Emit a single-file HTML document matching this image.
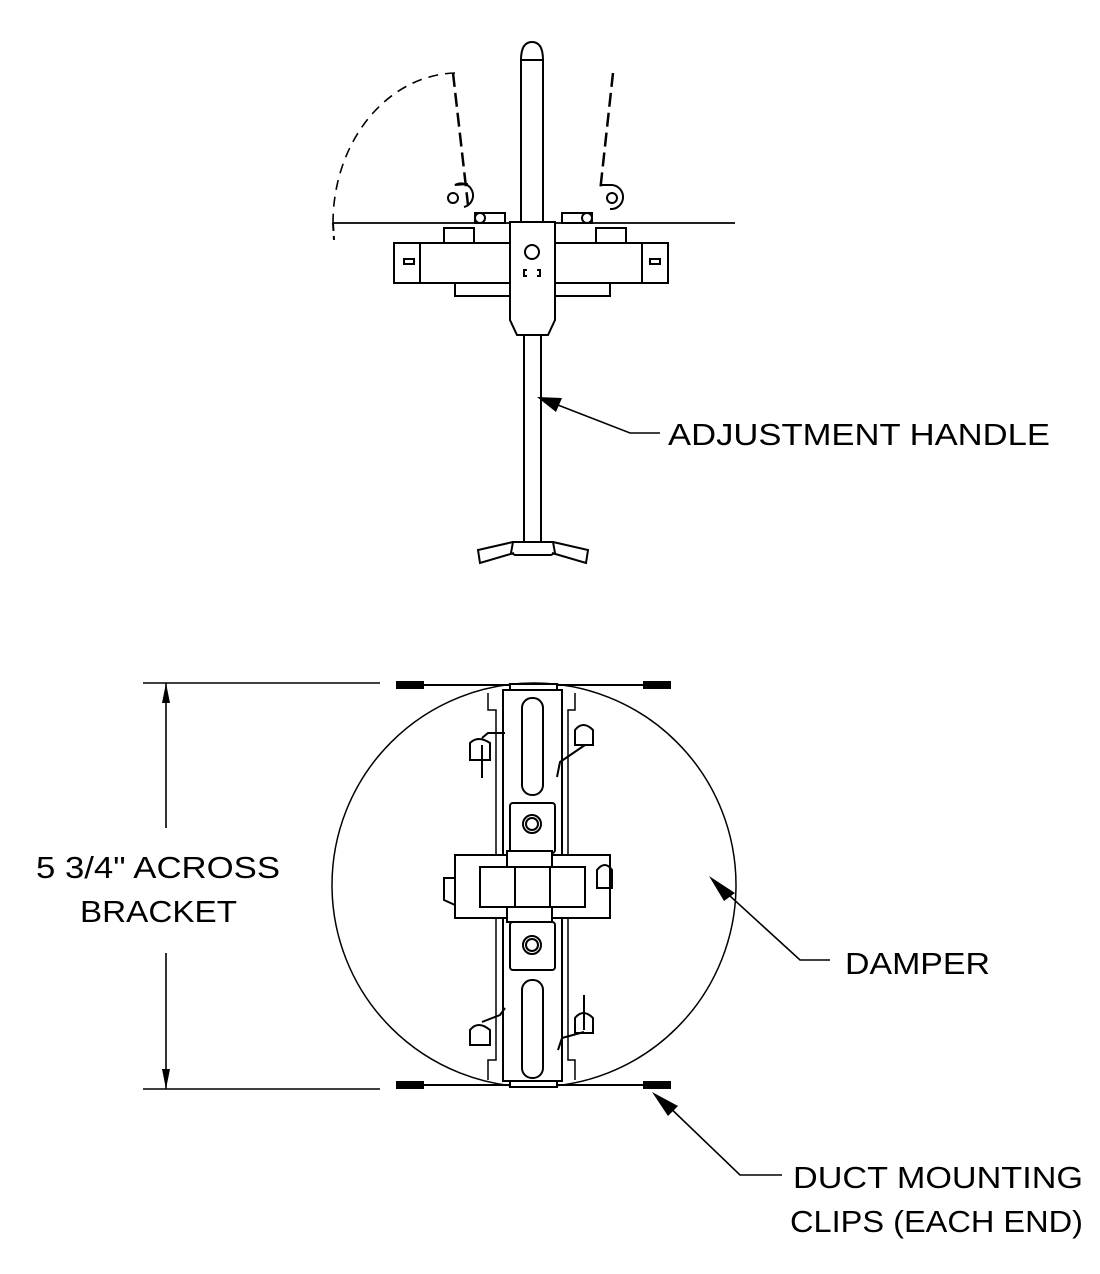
<!DOCTYPE html>
<html><head><style>
html,body{margin:0;padding:0;background:#fff;}
svg{display:block;}
text{font-family:"Liberation Sans",sans-serif;font-size:31px;fill:#000;}
</style></head><body>
<svg width="1100" height="1274" viewBox="0 0 1100 1274" xmlns="http://www.w3.org/2000/svg">
<g fill="none" stroke="#000" stroke-width="2">
<path d="M455 73 A125 150 0 0 0 333 223" stroke-dasharray="10 7" stroke-width="1.6"/>
<line x1="333" y1="223" x2="334" y2="240" stroke-dasharray="8 5"/>
<line x1="453" y1="73" x2="468" y2="205" stroke-dasharray="14 6" stroke-width="2.5"/>
<line x1="613" y1="73" x2="600" y2="192" stroke-dasharray="14 6" stroke-width="2.5"/>
<line x1="333" y1="223" x2="735" y2="223" stroke-width="1.8"/>
<path d="M464 207 A12 12 0 1 0 455 185 L468 184"/>
<circle cx="453" cy="198" r="5"/>
<path d="M601 185 L612 185 A12 12 0 1 1 610 209"/>
<circle cx="612" cy="198" r="5"/>
<rect x="475" y="213" width="30" height="10"/>
<rect x="562" y="213" width="30" height="10"/>
<circle cx="480" cy="218" r="5"/><circle cx="587" cy="218" r="5"/>
<rect x="444" y="228" width="30" height="15"/>
<rect x="596" y="228" width="30" height="15"/>
<rect x="394" y="243" width="274" height="40"/>
<rect x="394" y="243" width="26" height="40"/>
<rect x="642" y="243" width="26" height="40"/>
<rect x="404" y="259" width="10" height="5"/>
<rect x="650" y="259" width="10" height="5"/>
<path d="M455 283 V296 H512"/>
<path d="M610 283 V296 H555"/>
<path d="M521 222 V60 Q521 42 532 42 Q543 42 543 60 V222"/>
<line x1="521" y1="60" x2="543" y2="60"/>
<path d="M510 222 H555 V320 L548 335 H517 L510 320 Z" fill="#fff"/>
<circle cx="532" cy="252" r="7"/>
<path d="M527 270 H524 V276 H527 M537 270 H540 V276 H537"/>
<line x1="524" y1="335" x2="524" y2="542"/>
<line x1="541" y1="335" x2="541" y2="542"/>
<path d="M513 542 H553 L555 553 L551 555 H515 L511 553 Z"/>
<path d="M513 542 L478 550 L480 563 L514 553"/>
<path d="M553 542 L588 550 L586 563 L552 553"/>

<circle cx="534" cy="885" r="202" stroke-width="1.5"/>
<line x1="397" y1="685" x2="670" y2="685"/>
<line x1="397" y1="1085" x2="670" y2="1085"/>
<rect x="397" y="682" width="26" height="6" fill="#000"/>
<rect x="644" y="682" width="26" height="6" fill="#000"/>
<rect x="397" y="1082" width="26" height="6" fill="#000"/>
<rect x="644" y="1082" width="26" height="6" fill="#000"/>
<path d="M488 693 V710 H496 V1060 H488 V1080" fill="#fff" stroke-width="1.5"/>
<path d="M575 693 V710 H568 V1060 H575 V1080" fill="#fff" stroke-width="1.5"/>
<path d="M510 684 H557 V1087 H510 Z" fill="#fff"/>
<path d="M503 690 H562 V1081 H503 Z" fill="#fff"/>
<rect x="522" y="698" width="21" height="97" rx="10"/>
<rect x="522" y="980" width="21" height="98" rx="10"/>
<rect x="510" y="803" width="45" height="50" rx="3"/>
<rect x="510" y="922" width="45" height="48" rx="3"/>
<circle cx="532" cy="824" r="9"/><circle cx="532" cy="824" r="6"/>
<circle cx="532" cy="945" r="9"/><circle cx="532" cy="945" r="6"/>
<rect x="455" y="855" width="155" height="63" fill="#fff"/>
<rect x="507" y="851" width="45" height="71" fill="#fff"/>
<rect x="480" y="867" width="105" height="40" fill="#fff"/>
<line x1="515" y1="867" x2="515" y2="907"/>
<line x1="550" y1="867" x2="550" y2="907"/>
<path d="M455 878 H444 V900 L455 905"/>
<path d="M597 888 V870 Q605 860 612 870 V888 Z"/>
<path d="M470 760 V743 Q478 735 490 743 V760 Z"/>
<line x1="482" y1="745" x2="482" y2="778"/>
<path d="M482 738 L488 733 H505"/>
<path d="M575 745 V730 Q583 720 593 730 V745 Z"/>
<path d="M585 745 L560 762 L557 777"/>
<path d="M470 1045 V1030 Q478 1020 490 1030 V1045 Z"/>
<path d="M482 1022 L500 1015 L505 1008"/>
<path d="M575 1033 V1018 Q583 1008 593 1018 V1033 Z"/>
<line x1="584" y1="995" x2="584" y2="1030"/>
<path d="M584 1032 L562 1038 L558 1050"/>

<line x1="143" y1="683" x2="380" y2="683" stroke-width="1.6"/>
<line x1="143" y1="1089" x2="380" y2="1089" stroke-width="1.6"/>
<line x1="166" y1="683" x2="166" y2="828" stroke-width="1.6"/>
<line x1="166" y1="953" x2="166" y2="1089" stroke-width="1.6"/>
<polyline points="545,400 630,433 660,433" stroke-width="1.6"/>
<polyline points="718,885 800,960 830,960" stroke-width="1.6"/>
<polyline points="662,1100 740,1175 782,1175" stroke-width="1.6"/>
</g>
<g fill="#000">
<path d="M166 683 L162 703 L170 703 Z"/>
<path d="M166 1089 L162 1069 L170 1069 Z"/>
<path d="M537 397 L562 398 L556 412 Z"/>
<path d="M709 876 L735 893 L724 901 Z"/>
<path d="M652 1092 L678 1106 L668 1116 Z"/>
</g>
<text x="668" y="445" textLength="382" lengthAdjust="spacingAndGlyphs">ADJUSTMENT HANDLE</text>
<text x="36" y="878" textLength="244" lengthAdjust="spacingAndGlyphs">5 3/4" ACROSS</text>
<text x="80" y="922" textLength="157" lengthAdjust="spacingAndGlyphs">BRACKET</text>
<text x="845" y="974" textLength="145" lengthAdjust="spacingAndGlyphs">DAMPER</text>
<text x="793" y="1188" textLength="290" lengthAdjust="spacingAndGlyphs">DUCT MOUNTING</text>
<text x="790" y="1232" textLength="293" lengthAdjust="spacingAndGlyphs">CLIPS (EACH END)</text>
</svg>
</body></html>
